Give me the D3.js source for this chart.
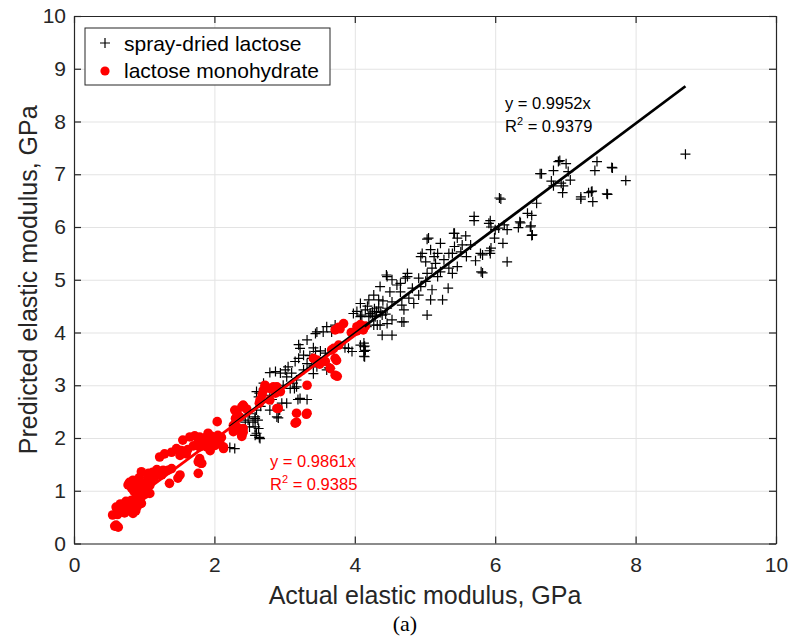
<!DOCTYPE html>
<html>
<head>
<meta charset="utf-8">
<script src="https://cdn.jsdelivr.net/npm/d3@7"></script>
<style>
  body { margin: 0; background: #fff; }
  svg { display: block; font-family: "Liberation Sans", Arial, Helvetica, sans-serif; }
</style>
</head>
<body>
<div id="chart"></div>
<script>
// axis ticks
const xTicks = [0, 2, 4, 6, 8, 10];
const yTicks = [0, 1, 2, 3, 4, 5, 6, 7, 8, 9, 10];

// spray-dried lactose: [actual, predicted] in GPa
const sprayDried = [
  [8.71,7.38],[7.86,6.88],[7.66,7.13],[7.59,6.63],[7.67,7.12],[7.45,7.24],[7.42,7.07],[7.38,6.68],[7.33,6.65],[7.39,6.48],
  [7.22,6.53],[7.37,6.67],[7.60,6.62],[7.22,6.57],[6.90,7.24],[6.92,7.26],[7.01,7.20],[6.66,7.01],[6.83,7.07],[6.80,6.87],
  [7.04,7.05],[7.07,6.89],[6.94,6.83],[6.97,6.78],[6.96,6.65],[6.83,6.78],[6.64,7.01],
  [6.08,6.53],[6.06,6.55],[6.59,6.45],[6.46,6.26],[6.52,6.22],[6.35,6.10],[6.33,5.99],[6.51,6.02],[6.52,5.84],[5.93,6.12],
  [5.94,6.00],[6.13,6.04],[6.17,5.95],[6.00,5.95],[5.99,5.79],[6.11,5.69],[5.94,5.60],[5.92,5.55],[5.82,5.47],[6.17,5.34],
  [5.82,5.13],[5.80,5.15],[5.70,6.20],[6.36,6.08],[6.50,6.00],[6.53,5.85],
  [5.91,6.07],[6.05,5.98],[5.70,6.12],[5.42,5.88],[5.46,5.79],[5.58,5.83],[5.65,5.66],[5.53,5.66],[5.42,5.63],[5.39,5.50],
  [5.51,5.53],[5.59,5.44],[5.72,5.36],[5.79,5.50],[5.93,5.50],
  [5.22,5.69],[5.05,5.79],[5.08,5.57],[5.18,5.50],[5.34,5.50],[5.27,5.38],[4.96,5.50],[5.01,5.34],[5.15,5.31],[5.10,5.22],
  [5.34,5.22],[5.46,5.25],[5.39,5.12],[5.22,5.15],[5.18,5.06],[5.03,5.12],[4.91,5.03],[5.01,4.97],[4.94,4.87],[5.10,4.81],
  [5.33,4.84],[5.25,4.62],[5.41,5.88],[5.03,5.77],[5.13,5.44],[4.94,5.44],
  [4.75,5.12],[4.72,5.03],[4.65,4.93],[4.60,4.90],[4.45,5.09],[4.53,5.00],[4.36,4.87],[4.50,4.77],[4.65,4.77],[4.82,4.84],
  [4.91,4.71],[4.77,4.65],[4.84,4.55],[5.08,4.62],[4.67,4.52],[4.70,4.43],[5.03,4.33],[4.75,5.06],[4.46,5.06],
  [4.27,4.71],[4.34,4.62],[4.20,4.62],[4.40,4.60],[4.53,4.58],[4.46,4.46],[4.34,4.48],[4.25,4.39],[4.15,4.43],[4.10,4.33],
  [4.20,4.30],[4.29,4.30],[4.39,4.33],[4.53,4.24],[4.67,4.20],[4.36,4.14],[4.27,4.14],[4.39,3.95],[4.53,3.95],[4.13,3.80],
  [4.14,3.74],[4.14,3.54],[4.46,4.17],[4.70,4.20],[4.08,4.55],[4.03,4.40],[4.08,3.76],[4.15,3.66],
  [4.22,4.36],[4.31,4.40],[4.37,4.38],[4.44,4.35],[4.28,4.45],[4.18,4.50],
  [3.98,4.36],[4.08,4.30],[4.25,4.33],[4.32,4.14],[4.17,4.11],[3.60,4.11],[3.55,4.01],[3.44,3.98],[3.67,4.01],[3.72,4.14],
  [3.32,3.86],[3.22,3.70],[3.44,3.64],[3.51,3.65],[3.58,3.61],[3.27,3.57],[3.20,3.51],[3.15,3.45],[3.39,3.51],[3.41,3.38],
  [3.32,3.41],[3.27,3.29],[3.60,3.29],[3.65,3.32],[3.91,3.70],[3.86,3.71],[3.96,3.64],[4.13,3.73],[4.13,3.64],[4.13,3.55],
  [3.46,4.01],[3.20,3.77],[3.41,3.71],[3.36,3.56],[3.46,3.35],[3.63,3.33],[3.41,3.22],
  [3.05,3.35],[3.01,3.29],[3.10,3.23],[2.94,3.23],[2.87,3.26],[2.79,3.24],[3.03,3.16],[3.17,3.10],[3.12,3.04],[2.98,3.00],
  [3.08,2.94],[3.14,2.94],[3.22,2.75],[3.32,2.73],[3.19,2.73],[3.17,2.97],[3.03,2.66],
  [2.70,3.04],[2.60,2.88],[2.64,2.85],[2.79,2.81],[2.82,2.73],[2.79,2.53],[2.96,2.66],[2.93,2.53],[2.89,2.40],[2.91,2.38],
  [2.66,2.60],[2.60,2.53],[2.58,2.40],[2.62,2.34],[2.55,2.30],[2.48,2.34],[2.44,2.30],[2.50,2.21],[2.63,2.18],[2.65,1.99],
  [2.60,2.09],[2.29,1.80],[2.22,1.82],[2.36,2.43],[2.50,2.46],[2.58,2.37],[2.58,2.21],[2.58,2.05],[2.63,2.78],[2.64,2.01]
];

// lactose monohydrate: [actual, predicted] in GPa
const monohydrate = [
  [0.58,0.33],[0.60,0.35],[0.63,0.31],[0.55,0.54],[0.62,0.55],[0.60,0.69],[0.67,0.70],[0.75,0.76],[0.79,0.68],[0.71,0.63],
  [0.84,0.57],[0.86,0.68],[0.94,0.76],[0.96,0.88],[0.89,0.85],[0.82,0.82],[0.70,0.72],[0.78,0.62],[0.65,0.60],[0.90,0.70],
  [0.62,0.62],[0.68,0.66],[0.72,0.58],[0.76,0.70],[0.80,0.74],[0.85,0.78],[0.88,0.62],[0.92,0.82],[0.66,0.75],[0.74,0.80],
  [0.77,1.11],[0.79,1.16],[0.84,1.20],[0.89,1.14],[0.91,1.05],[0.98,1.07],[1.03,1.01],[1.01,0.93],[1.08,0.95],[0.96,1.36],
  [1.05,1.30],[1.10,1.20],[1.15,1.26],[1.20,1.32],[1.27,1.39],[1.34,1.39],[1.39,1.42],[0.96,0.76],[1.36,1.14],[1.51,1.30],
  [1.48,1.24],[1.77,1.33],[0.85,1.00],[0.95,1.15],[1.06,1.33],
  [0.98,0.95],[1.00,1.10],[1.04,1.18],[1.08,1.10],[0.82,1.05],[0.88,0.95],[0.93,1.25],[1.12,1.35],[1.18,1.40],[1.25,1.30],
  [1.22,1.64],[1.29,1.70],[1.39,1.73],[1.46,1.80],[1.53,1.76],[1.51,1.67],[1.60,1.70],[1.55,1.96],[1.65,2.02],[1.72,2.04],
  [1.79,2.02],[1.77,1.92],[1.84,1.96],[1.89,2.02],[1.91,2.09],[1.96,2.03],[1.84,1.89],[1.79,1.83],[1.89,1.83],[1.94,1.76],
  [2.01,1.86],[2.08,1.90],[2.03,1.96],[2.13,1.83],[1.77,1.55],[1.81,1.52],[1.79,1.61],[1.82,1.52],
  [1.95,1.95],[1.98,1.88],[2.05,2.05],[1.70,1.85],[1.62,1.78],
  [2.04,2.31],[2.32,2.47],[2.39,2.59],[2.41,2.62],[2.32,2.21],[2.36,2.16],[2.41,2.11],[2.29,2.16],[2.30,2.37],[2.46,2.55],
  [2.27,2.12],[2.39,2.05],[2.34,2.18],[2.10,2.01],[2.13,1.80],[2.29,2.53],[2.36,2.40],[2.27,2.24],[2.41,2.18],[2.39,2.03],
  [2.65,2.72],[2.70,2.91],[2.68,2.82],[2.79,2.94],[2.84,2.97],[2.87,2.85],[2.89,2.56],[2.72,3.00],[2.94,2.88],[2.79,2.72],
  [2.91,2.56],[2.64,2.66],[2.41,2.62],[2.89,2.97],
  [3.17,2.47],[3.32,2.47],[3.15,2.28],[3.17,2.30],[3.31,2.45],[3.32,3.00],
  [3.46,3.48],[3.41,3.51],[3.50,3.40],[3.58,3.45],[3.65,3.32],[3.72,3.19],[3.75,3.17],[3.70,3.70],[3.77,3.76],[3.74,3.47],
  [3.72,3.51],[3.67,3.67],
  [3.72,4.05],[3.79,4.07],[3.84,4.17],[3.77,4.10],[4.03,4.11],[4.03,4.03],[4.10,4.08],[4.15,4.12],[4.08,4.15],[4.12,4.05],[3.95,4.00]
];

// fitted lines through origin
const fits = [
  { name: "spray-dried lactose", slope: 0.9952, r2: "0.9379", color: "#000", data: sprayDried },
  { name: "lactose monohydrate", slope: 0.9861, r2: "0.9385", color: "#ff0000", data: monohydrate }
];

const w = 790, h = 639;
const mLeft = 74, mRight = 776, mTop = 16, mBottom = 543.5;
const axisColor = "#262626";

const svg = d3.select("#chart").append("svg")
  .attr("width", w)
  .attr("height", h);

const x = d3.scaleLinear().domain([0, 10]).range([mLeft, mRight]);
const y = d3.scaleLinear().domain([0, 10]).range([mBottom, mTop]);

// grid
svg.append("g")
  .attr("transform", `translate(0,${mBottom})`)
  .call(d3.axisBottom(x).tickValues(xTicks).tickSize(-(mBottom - mTop)).tickFormat(""))
  .call(g => g.select(".domain").remove())
  .call(g => g.selectAll("line").attr("stroke", "#e3e3e3").attr("stroke-width", 1));
svg.append("g")
  .attr("transform", `translate(${mLeft},0)`)
  .call(d3.axisLeft(y).tickValues(yTicks).tickSize(-(mRight - mLeft)).tickFormat(""))
  .call(g => g.select(".domain").remove())
  .call(g => g.selectAll("line").attr("stroke", "#e3e3e3").attr("stroke-width", 1));

// spray-dried: plus markers
const plus = "M-5,0H5M0,-5V5";
svg.append("g")
  .selectAll("path")
  .data(sprayDried)
  .enter()
  .append("path")
  .attr("d", plus)
  .attr("transform", d => `translate(${x(d[0])},${y(d[1])})`)
  .attr("stroke", "#000")
  .attr("stroke-width", 1.2)
  .attr("fill", "none");

// monohydrate: filled dots
svg.append("g")
  .selectAll("circle")
  .data(monohydrate)
  .enter()
  .append("circle")
  .attr("cx", d => x(d[0]))
  .attr("cy", d => y(d[1]))
  .attr("r", 4.8)
  .attr("fill", "#ff0000");

// fit lines
fits.forEach(f => {
  const x0 = d3.min(f.data, d => d[0]);
  const x1 = d3.max(f.data, d => d[0]);
  svg.append("line")
    .attr("x1", x(x0)).attr("y1", y(f.slope * x0))
    .attr("x2", x(x1)).attr("y2", y(f.slope * x1))
    .attr("stroke", f.color)
    .attr("stroke-width", 2.8);
});

// axes box with inward ticks on all sides
const tickLen = 7;
const axes = svg.append("g");
axes.append("g")
  .attr("transform", `translate(0,${mBottom})`)
  .call(d3.axisBottom(x).tickValues(xTicks).tickSizeInner(-tickLen).tickSizeOuter(0).tickPadding(14))
  .call(g => g.selectAll("text").attr("font-size", 21).attr("fill", axisColor).attr("font-family", "Liberation Sans, Arial, sans-serif"));
axes.append("g")
  .attr("transform", `translate(0,${mTop})`)
  .call(d3.axisTop(x).tickValues(xTicks).tickSizeInner(-tickLen).tickSizeOuter(0).tickFormat(""));
axes.append("g")
  .attr("transform", `translate(${mLeft},0)`)
  .call(d3.axisLeft(y).tickValues(yTicks).tickSizeInner(-tickLen).tickSizeOuter(0).tickPadding(8))
  .call(g => g.selectAll("text").attr("font-size", 21).attr("fill", axisColor).attr("font-family", "Liberation Sans, Arial, sans-serif"));
axes.append("g")
  .attr("transform", `translate(${mRight},0)`)
  .call(d3.axisRight(y).tickValues(yTicks).tickSizeInner(-tickLen).tickSizeOuter(0).tickFormat(""));
axes.selectAll(".domain, .tick line").attr("stroke", axisColor).attr("stroke-width", 1.2);

// axis titles
svg.append("text")
  .attr("x", (mLeft + mRight) / 2)
  .attr("y", 604)
  .attr("text-anchor", "middle")
  .attr("font-size", 25)
  .attr("fill", axisColor)
  .text("Actual elastic modulus, GPa");
svg.append("text")
  .attr("transform", `translate(37,${(mTop + mBottom) / 2}) rotate(-90)`)
  .attr("text-anchor", "middle")
  .attr("font-size", 25)
  .attr("fill", axisColor)
  .text("Predicted elastic modulus, GPa");
svg.append("text")
  .attr("x", 405)
  .attr("y", 631)
  .attr("text-anchor", "middle")
  .attr("font-family", "Liberation Serif, Times New Roman, serif")
  .attr("font-size", 22)
  .attr("fill", "#000")
  .text("(a)");

// fit annotations
const notes = [
  { fit: fits[0], x: 505, y: 109 },
  { fit: fits[1], x: 270, y: 467 }
];
notes.forEach(n => {
  const g = svg.append("g").attr("fill", n.fit.color).attr("font-size", 16.5);
  g.append("text").attr("x", n.x).attr("y", n.y).text(`y = ${n.fit.slope.toFixed(4)}x`);
  const t = g.append("text").attr("x", n.x).attr("y", n.y + 23);
  t.append("tspan").text("R");
  t.append("tspan").attr("dy", -7).attr("font-size", 11).text("2");
  t.append("tspan").attr("dy", 7).text(` = ${n.fit.r2}`);
});

// legend
const legend = svg.append("g").attr("transform", "translate(85,28)");
legend.append("rect")
  .attr("width", 245)
  .attr("height", 57)
  .attr("fill", "#fff")
  .attr("stroke", axisColor)
  .attr("stroke-width", 1);
legend.append("path")
  .attr("d", plus)
  .attr("transform", "translate(20,15)")
  .attr("stroke", "#000")
  .attr("stroke-width", 1.2);
legend.append("circle")
  .attr("cx", 20).attr("cy", 43).attr("r", 4.6)
  .attr("fill", "#ff0000");
legend.selectAll("text.lbl")
  .data(fits)
  .enter()
  .append("text")
  .attr("class", "lbl")
  .attr("x", 39)
  .attr("y", (d, i) => 22.5 + i * 27)
  .attr("font-size", 21)
  .attr("fill", "#000")
  .text(d => d.name);
</script>
</body>
</html>
